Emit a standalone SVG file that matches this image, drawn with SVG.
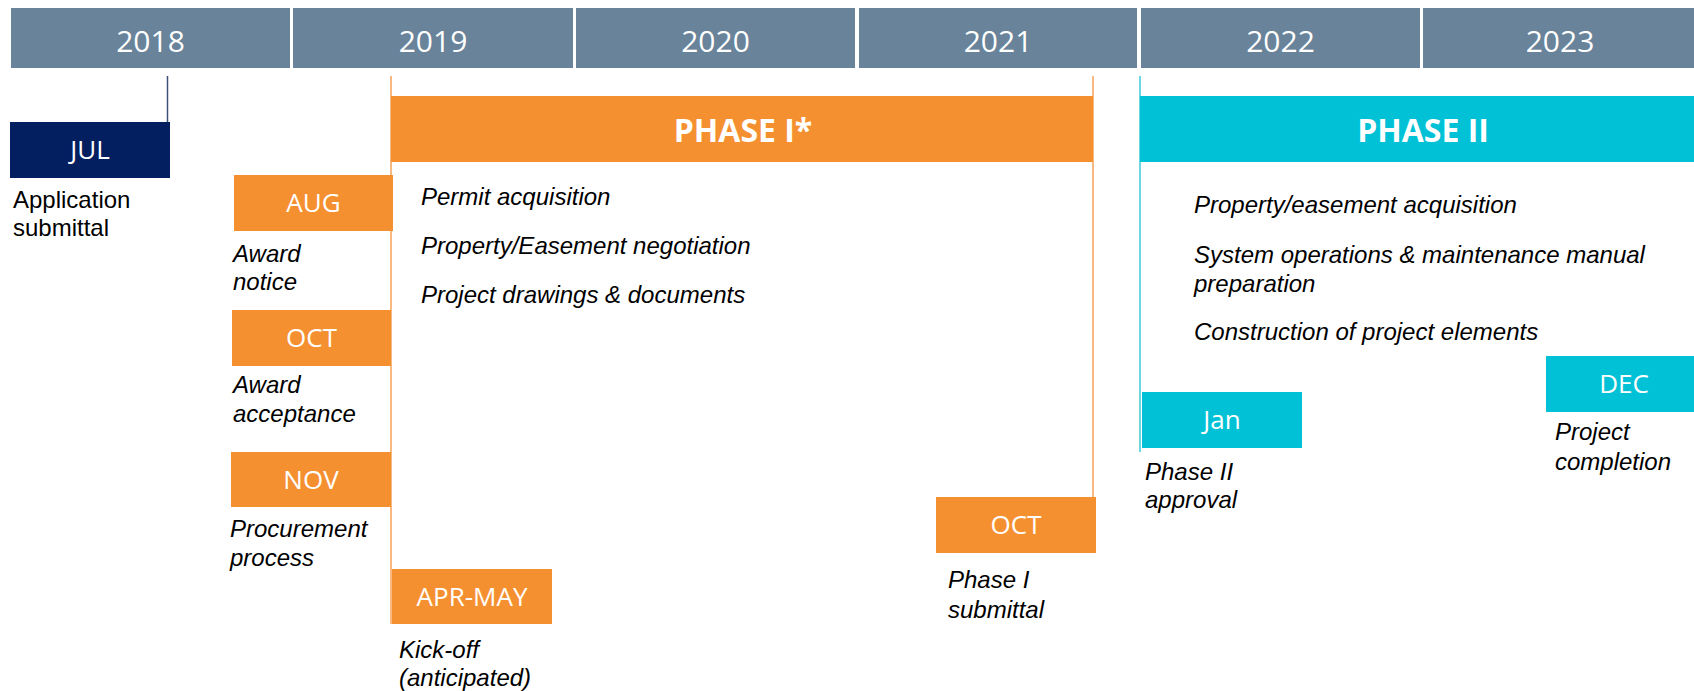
<svg xmlns="http://www.w3.org/2000/svg" width="1694" height="691" viewBox="0 0 1694 691">
<style>
.yr{fill:#68839A}
.yt{font-family:"Open Sans",sans-serif;font-size:30px;fill:#fff;text-anchor:middle}
.mt{font-family:"Open Sans",sans-serif;font-size:26px;fill:#fff;text-anchor:middle}
.pt{font-family:"Open Sans",sans-serif;font-size:32px;font-weight:bold;fill:#fff;text-anchor:middle}
.or{fill:#F59031}
.cy{fill:#00C1D6}
.nv{fill:#031F5F}
.it{font-family:"Liberation Sans",Arial,sans-serif;font-size:24px;font-style:italic;fill:#000}
.rg{font-family:"Liberation Sans",Arial,sans-serif;font-size:24px;fill:#000}
</style>
<rect width="1694" height="691" fill="#fff"/>
<g id="years">
<rect class="yr" x="11" y="8" width="279" height="60"/>
<rect class="yr" x="293" y="8" width="280" height="60"/>
<rect class="yr" x="576" y="8" width="279" height="60"/>
<rect class="yr" x="859" y="8" width="278" height="60"/>
<rect class="yr" x="1141" y="8" width="279" height="60"/>
<rect class="yr" x="1423" y="8" width="271" height="60"/>
<text class="yt" x="150.5" y="52">2018</text>
<text class="yt" x="433" y="52">2019</text>
<text class="yt" x="715.5" y="52">2020</text>
<text class="yt" x="998" y="52">2021</text>
<text class="yt" x="1280.5" y="52">2022</text>
<text class="yt" x="1560" y="52">2023</text>
</g>
<g id="connectors" fill="none">
<line x1="167.5" y1="76" x2="167.5" y2="122" stroke="#3A4F7A" stroke-width="1.5"/>
<line x1="391" y1="76" x2="391" y2="624" stroke="#F5A059" stroke-width="1.5"/>
<line x1="1093" y1="76" x2="1093" y2="497" stroke="#F5A059" stroke-width="1.5"/>
<line x1="1140" y1="76" x2="1140" y2="452" stroke="#3CC8DA" stroke-width="1.5"/>
</g>
<g id="phase1">
<rect class="or" x="391" y="96" width="702" height="66"/>
<text class="pt" x="743" y="142">PHASE I*</text>
<text class="it" x="421" y="205">Permit acquisition</text>
<text class="it" x="421" y="254">Property/Easement negotiation</text>
<text class="it" x="421" y="302.5">Project drawings &amp; documents</text>
</g>
<g id="phase2">
<rect class="cy" x="1140" y="96" width="554" height="66"/>
<text class="pt" x="1423" y="142">PHASE II</text>
<text class="it" x="1194" y="213">Property/easement acquisition</text>
<text class="it" x="1194" y="262.5">System operations &amp; maintenance manual</text>
<text class="it" x="1194" y="291.5">preparation</text>
<text class="it" x="1194" y="340">Construction of project elements</text>
</g>
<g id="jul">
<rect class="nv" x="10" y="122" width="160" height="56"/>
<text class="mt" x="90" y="159">JUL</text>
<text class="rg" x="13" y="207.5">Application</text>
<text class="rg" x="13" y="235.5">submittal</text>
</g>
<g id="aug">
<rect class="or" x="234" y="175" width="159" height="56"/>
<text class="mt" x="313.5" y="212">AUG</text>
<text class="it" x="233" y="262">Award</text>
<text class="it" x="233" y="290">notice</text>
</g>
<g id="oct1">
<rect class="or" x="232" y="310" width="159" height="56"/>
<text class="mt" x="311.5" y="347">OCT</text>
<text class="it" x="233" y="393">Award</text>
<text class="it" x="233" y="422">acceptance</text>
</g>
<g id="nov">
<rect class="or" x="231" y="452" width="160" height="55"/>
<text class="mt" x="311" y="489">NOV</text>
<text class="it" x="230" y="537">Procurement</text>
<text class="it" x="230" y="566">process</text>
</g>
<g id="aprmay">
<rect class="or" x="392" y="569" width="160" height="55"/>
<text class="mt" x="472" y="606">APR-MAY</text>
<text class="it" x="399" y="658">Kick-off</text>
<text class="it" x="399" y="686">(anticipated)</text>
</g>
<g id="oct2">
<rect class="or" x="936" y="497" width="160" height="56"/>
<text class="mt" x="1016" y="534">OCT</text>
<text class="it" x="948" y="588">Phase I</text>
<text class="it" x="948" y="618">submittal</text>
</g>
<g id="jan">
<rect class="cy" x="1142" y="392" width="160" height="56"/>
<text class="mt" x="1222" y="429">Jan</text>
<text class="it" x="1145" y="480">Phase II</text>
<text class="it" x="1145" y="508">approval</text>
</g>
<g id="dec">
<rect class="cy" x="1546" y="356" width="148" height="56"/>
<text class="mt" x="1624" y="393">DEC</text>
<text class="it" x="1555" y="440">Project</text>
<text class="it" x="1555" y="470">completion</text>
</g>
</svg>
